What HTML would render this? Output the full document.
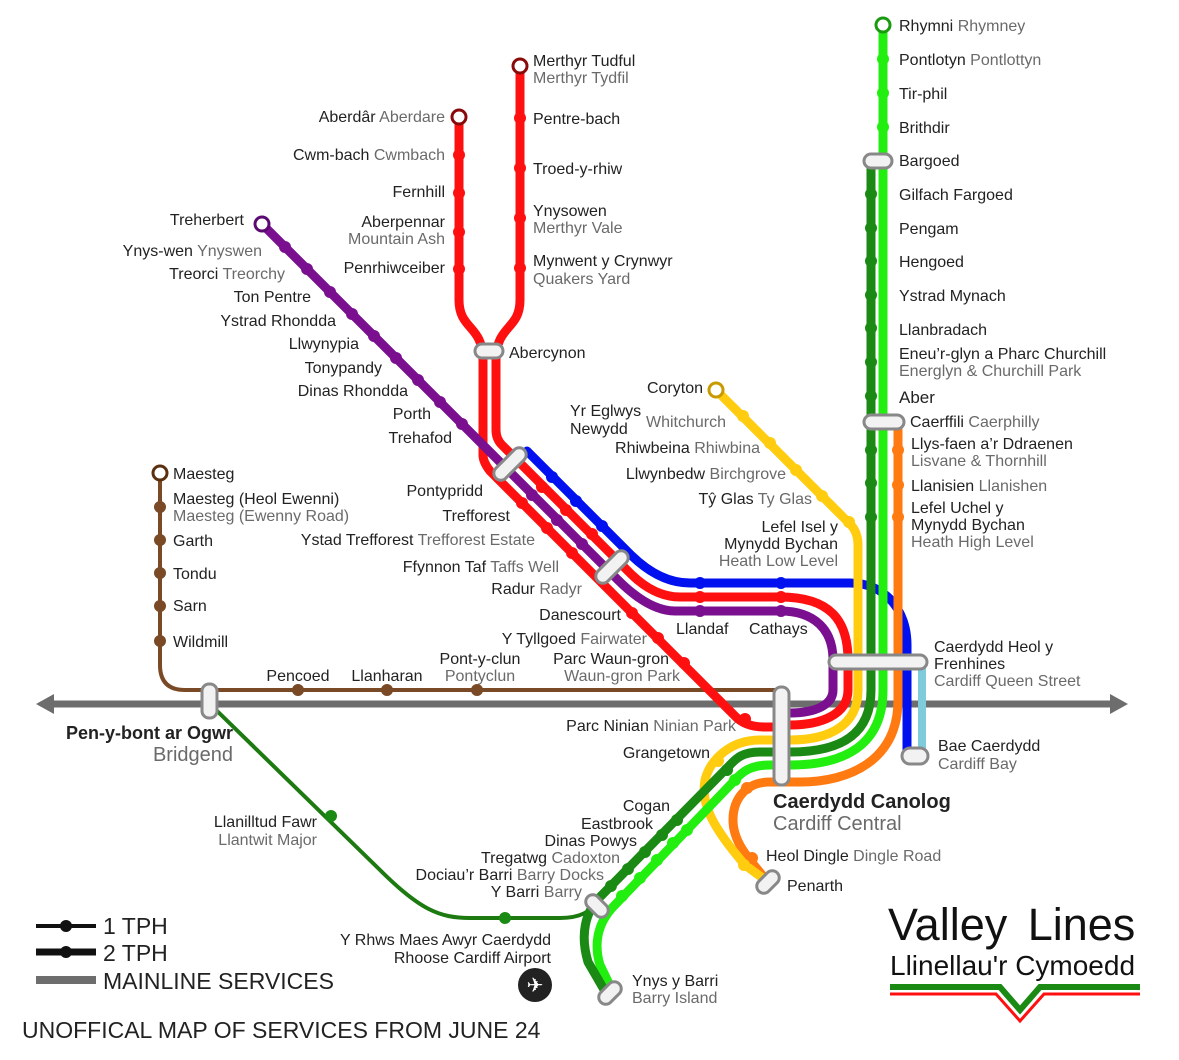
<!DOCTYPE html>
<html><head><meta charset="utf-8"><style>
body{margin:0;background:#fff}
svg{display:block}
text{font-family:"Liberation Sans",sans-serif;font-size:16px;fill:#222}
.e{fill:#6a6a6a}
.r{text-anchor:end}
.c{text-anchor:middle}
</style></head><body>
<svg width="1179" height="1060" viewBox="0 0 1179 1060" xmlns="http://www.w3.org/2000/svg">
<g fill="none" stroke-linecap="round" stroke-linejoin="round">
<path d="M50,704 H1112" stroke="#6d6d6d" stroke-width="7"/>
<path d="M160,479 V665 Q160,690 185,690 H780" stroke="#7a4a26" stroke-width="4"/>
<path d="M212,706 L380,870 C420,910 440,918 470,918 H560 C580,918 590,912 600,900" stroke="#1c7a10" stroke-width="4"/>
<path d="M922,665 V750" stroke="#7ecbdc" stroke-width="8"/>
<path d="M527,451 L630,554 Q659,583 690,583 H850 C885,583 907,610 907,645 V752" stroke="#0010ee" stroke-width="9"/>
<path d="M898,420 V700 C898,760 850,782 800,782 H770 C745,782 733,800 733,820 C733,842 748,858 768,882" stroke="#ff7a10" stroke-width="9"/>
<path d="M716,390 L850,524 Q858,532 858,545 V690 C858,725 830,740 790,740 H760 C730,740 710,760 705,780 C700,805 715,830 745,865 L768,882" stroke="#ffcc10" stroke-width="9"/>
<path d="M883,25 V690 C883,745 845,765 790,765 H770 C750,765 742,772 735,780 L612,908 C597,925 594,945 600,965 L612,990" stroke="#22ee10" stroke-width="9"/>
<path d="M871,165 V690 C871,735 840,752 790,752 H760 C740,752 735,760 727,768 L600,897 C585,912 580,935 588,962 L606,993" stroke="#1a8a14" stroke-width="9"/>
<path d="M459,117 V300 C459,330 483,325 483,360 V455 Q483,462 490,471 L735,716 Q745,727 765,727 H781" stroke="#ff1010" stroke-width="9"/>
<path d="M520,66 V300 C520,330 496,325 496,360 V430 Q496,439 502,445 L630,573 Q654,597 680,597 H780 C830,597 848,620 848,660 V690 C848,715 820,725 790,725" stroke="#ff1010" stroke-width="9"/>
<path d="M262,224 L618,580 Q649,611 675,611 H780 C815,611 833,630 833,660 V690 C833,705 815,713 790,713" stroke="#7a1090" stroke-width="9"/>
</g>
<polygon points="36,704 54,694 54,714" fill="#6d6d6d"/>
<polygon points="1128,704 1110,694 1110,714" fill="#6d6d6d"/>
<g fill="#22ee10"><circle cx="883" cy="59" r="6"/><circle cx="883" cy="93" r="6"/><circle cx="883" cy="127" r="6"/>
<circle cx="735" cy="780" r="6"/><circle cx="687" cy="830" r="6"/><circle cx="673" cy="843" r="6"/><circle cx="657" cy="860" r="6"/><circle cx="640" cy="878" r="6"/><circle cx="622" cy="896" r="6"/></g>
<g fill="#1a8a14"><circle cx="871" cy="194" r="6"/><circle cx="871" cy="228" r="6"/><circle cx="871" cy="261" r="6"/><circle cx="871" cy="295" r="6"/><circle cx="871" cy="328" r="6"/><circle cx="871" cy="362" r="6"/><circle cx="871" cy="396" r="6"/><circle cx="871" cy="450" r="6"/><circle cx="871" cy="483" r="6"/><circle cx="871" cy="517" r="6"/>
<circle cx="727" cy="770" r="6"/><circle cx="677" cy="820" r="6"/><circle cx="662" cy="835" r="6"/><circle cx="645" cy="852" r="6"/><circle cx="628" cy="869" r="6"/><circle cx="611" cy="886" r="6"/><circle cx="331" cy="816" r="6"/><circle cx="505" cy="918" r="6"/></g>
<g fill="#ff7a10"><circle cx="898" cy="450" r="6"/><circle cx="898" cy="485" r="6"/><circle cx="898" cy="517" r="6"/><circle cx="747" cy="788" r="6"/><circle cx="752" cy="858" r="6"/></g>
<g fill="#ffcc10"><circle cx="743" cy="416" r="6"/><circle cx="770" cy="443" r="6"/><circle cx="796" cy="470" r="6"/><circle cx="822" cy="496" r="6"/><circle cx="849" cy="522" r="6"/><circle cx="718" cy="761" r="6"/><circle cx="744" cy="865" r="6"/></g>
<g fill="#0010ee"><circle cx="552" cy="477" r="6"/><circle cx="576" cy="501" r="6"/><circle cx="602" cy="526" r="6"/><circle cx="700" cy="583" r="6"/><circle cx="781" cy="583" r="6"/></g>
<g fill="#ff1010"><circle cx="459" cy="155" r="6"/><circle cx="459" cy="193" r="6"/><circle cx="459" cy="232" r="6"/><circle cx="459" cy="269" r="6"/>
<circle cx="520" cy="118" r="6"/><circle cx="520" cy="168" r="6"/><circle cx="520" cy="218" r="6"/><circle cx="520" cy="268" r="6"/>
<circle cx="542" cy="487" r="6"/><circle cx="566" cy="510" r="6"/><circle cx="592" cy="534" r="6"/><circle cx="700" cy="597" r="6"/><circle cx="781" cy="597" r="6"/>
<circle cx="522" cy="503" r="6"/><circle cx="547" cy="528" r="6"/><circle cx="572" cy="553" r="6"/><circle cx="632" cy="613" r="6"/><circle cx="658" cy="638" r="6"/><circle cx="684" cy="663" r="6"/><circle cx="745" cy="719" r="6"/></g>
<g fill="#7a1090"><circle cx="285" cy="247" r="6"/><circle cx="307" cy="269" r="6"/><circle cx="330" cy="292" r="6"/><circle cx="352" cy="314" r="6"/><circle cx="374" cy="336" r="6"/><circle cx="396" cy="358" r="6"/><circle cx="418" cy="380" r="6"/><circle cx="440" cy="402" r="6"/><circle cx="462" cy="424" r="6"/>
<circle cx="532" cy="495" r="6"/><circle cx="557" cy="520" r="6"/><circle cx="582" cy="544" r="6"/><circle cx="700" cy="611" r="6"/><circle cx="781" cy="611" r="6"/></g>
<g fill="#7a4a26"><circle cx="160" cy="507" r="6"/><circle cx="160" cy="540" r="6"/><circle cx="160" cy="573" r="6"/><circle cx="160" cy="606" r="6"/><circle cx="160" cy="641" r="6"/><circle cx="298" cy="690" r="6"/><circle cx="387" cy="690" r="6"/><circle cx="477" cy="690" r="6"/></g>
<g fill="#fff" stroke-width="3"><circle cx="883" cy="25" r="7" stroke="#1a9a10"/><circle cx="520" cy="66" r="7" stroke="#8a0a0a"/><circle cx="459" cy="117" r="7" stroke="#8a0a0a"/><circle cx="262" cy="224" r="7" stroke="#5a0a70"/><circle cx="716" cy="390" r="7" stroke="#c89a00"/><circle cx="160" cy="473" r="7" stroke="#5a3010"/></g>
<g fill="#f2f2f2" stroke="#888" stroke-width="3">
<rect x="864" y="154" width="28" height="14" rx="7"/>
<rect x="864" y="415" width="40" height="14" rx="7"/>
<rect x="475" y="344" width="28" height="14" rx="7"/>
<rect x="829" y="655" width="98" height="14" rx="7"/>
<rect x="902" y="748" width="26" height="16" rx="8"/>
<rect x="774" y="687" width="15" height="98" rx="7"/>
<rect x="202" y="684" width="15" height="34" rx="7"/>
<rect x="490" y="457" width="40" height="14" rx="7" transform="rotate(-45 510 464)"/>
<rect x="592" y="560" width="40" height="14" rx="7" transform="rotate(-45 612 567)"/>
<rect x="755" y="875" width="26" height="14" rx="7" transform="rotate(-45 768 882)"/>
<rect x="584" y="899" width="26" height="14" rx="7" transform="rotate(45 597 906)"/>
<rect x="597" y="986" width="26" height="14" rx="7" transform="rotate(-45 610 993)"/>
</g>
<text x="899" y="31">Rhymni <tspan class="e">Rhymney</tspan></text>
<text x="899" y="65">Pontlotyn <tspan class="e">Pontlottyn</tspan></text>
<text x="899" y="99">Tir-phil</text>
<text x="899" y="133">Brithdir</text>
<text x="899" y="166">Bargoed</text>
<text x="899" y="200">Gilfach Fargoed</text>
<text x="899" y="234">Pengam</text>
<text x="899" y="267">Hengoed</text>
<text x="899" y="301">Ystrad Mynach</text>
<text x="899" y="335">Llanbradach</text>
<text x="899" y="359">Eneu’r-glyn a Pharc Churchill</text>
<text x="899" y="376" class="e">Energlyn &amp; Churchill Park</text>
<text x="899" y="403" style="font-size:17px">Aber</text>
<text x="910" y="427">Caerffili <tspan class="e">Caerphilly</tspan></text>
<text x="911" y="449">Llys-faen a’r Ddraenen</text>
<text x="911" y="466" class="e">Lisvane &amp; Thornhill</text>
<text x="911" y="491">Llanisien <tspan class="e">Llanishen</tspan></text>
<text x="911" y="513">Lefel Uchel y</text>
<text x="911" y="530">Mynydd Bychan</text>
<text x="911" y="547" class="e">Heath High Level</text>
<text x="934" y="652">Caerdydd Heol y</text>
<text x="934" y="669">Frenhines</text>
<text x="934" y="686" class="e">Cardiff Queen Street</text>
<text x="938" y="751">Bae Caerdydd</text>
<text x="938" y="769" class="e">Cardiff Bay</text>
<text x="773" y="808" style="font-size:20px;font-weight:bold">Caerdydd Canolog</text>
<text x="773" y="830" class="e" style="font-size:20px">Cardiff Central</text>
<text x="766" y="861">Heol Dingle <tspan class="e">Dingle Road</tspan></text>
<text x="787" y="891">Penarth</text>
<text x="632" y="986">Ynys y Barri</text>
<text x="632" y="1003" class="e">Barry Island</text>
<text x="445" y="122" class="r">Aberdâr <tspan class="e">Aberdare</tspan></text>
<text x="445" y="160" class="r">Cwm-bach <tspan class="e">Cwmbach</tspan></text>
<text x="445" y="197" class="r">Fernhill</text>
<text x="445" y="227" class="r">Aberpennar</text>
<text x="445" y="244" class="r e">Mountain Ash</text>
<text x="445" y="273" class="r">Penrhiwceiber</text>
<text x="533" y="66">Merthyr Tudful</text>
<text x="533" y="83" class="e">Merthyr Tydfil</text>
<text x="533" y="124">Pentre-bach</text>
<text x="533" y="174">Troed-y-rhiw</text>
<text x="533" y="216">Ynysowen</text>
<text x="533" y="233" class="e">Merthyr Vale</text>
<text x="533" y="266">Mynwent y Crynwyr</text>
<text x="533" y="284" class="e">Quakers Yard</text>
<text x="509" y="358">Abercynon</text>
<text x="244" y="225" class="r">Treherbert</text>
<text x="262" y="256" class="r">Ynys-wen <tspan class="e">Ynyswen</tspan></text>
<text x="285" y="279" class="r">Treorci <tspan class="e">Treorchy</tspan></text>
<text x="311" y="302" class="r">Ton Pentre</text>
<text x="336" y="326" class="r">Ystrad Rhondda</text>
<text x="359" y="349" class="r">Llwynypia</text>
<text x="382" y="373" class="r">Tonypandy</text>
<text x="408" y="396" class="r">Dinas Rhondda</text>
<text x="431" y="419" class="r">Porth</text>
<text x="452" y="443" class="r">Trehafod</text>
<text x="483" y="496" class="r">Pontypridd</text>
<text x="510" y="521" class="r">Trefforest</text>
<text x="535" y="545" class="r">Ystad Trefforest <tspan class="e">Trefforest Estate</tspan></text>
<text x="559" y="572" class="r">Ffynnon Taf <tspan class="e">Taffs Well</tspan></text>
<text x="582" y="594" class="r">Radur <tspan class="e">Radyr</tspan></text>
<text x="621" y="620" class="r">Danescourt</text>
<text x="647" y="644" class="r">Y Tyllgoed <tspan class="e">Fairwater</tspan></text>
<text x="669" y="664" class="r">Parc Waun-gron</text>
<text x="680" y="681" class="r e">Waun-gron Park</text>
<text x="676" y="634">Llandaf</text>
<text x="749" y="634">Cathays</text>
<text x="703" y="393" class="r">Coryton</text>
<text x="570" y="416">Yr Eglwys</text>
<text x="570" y="434">Newydd</text>
<text x="646" y="427" class="e">Whitchurch</text>
<text x="760" y="453" class="r">Rhiwbeina <tspan class="e">Rhiwbina</tspan></text>
<text x="786" y="479" class="r">Llwynbedw <tspan class="e">Birchgrove</tspan></text>
<text x="812" y="504" class="r">Tŷ Glas <tspan class="e">Ty Glas</tspan></text>
<text x="838" y="532" class="r">Lefel Isel y</text>
<text x="838" y="549" class="r">Mynydd Bychan</text>
<text x="838" y="566" class="r e">Heath Low Level</text>
<text x="736" y="731" class="r">Parc Ninian <tspan class="e">Ninian Park</tspan></text>
<text x="710" y="758" class="r">Grangetown</text>
<text x="670" y="811" class="r">Cogan</text>
<text x="653" y="829" class="r">Eastbrook</text>
<text x="637" y="846" class="r">Dinas Powys</text>
<text x="620" y="863" class="r">Tregatwg <tspan class="e">Cadoxton</tspan></text>
<text x="604" y="880" class="r">Dociau’r Barri <tspan class="e">Barry Docks</tspan></text>
<text x="582" y="897" class="r">Y Barri <tspan class="e">Barry</tspan></text>
<text x="551" y="945" class="r">Y Rhws Maes Awyr Caerdydd</text>
<text x="551" y="963" class="r">Rhoose Cardiff Airport</text>
<text x="317" y="827" class="r">Llanilltud Fawr</text>
<text x="317" y="845" class="r e">Llantwit Major</text>
<text x="233" y="739" class="r" style="font-size:18px;font-weight:bold">Pen-y-bont ar Ogwr</text>
<text x="233" y="761" class="r e" style="font-size:20px">Bridgend</text>
<text x="173" y="479">Maesteg</text>
<text x="173" y="504">Maesteg (Heol Ewenni)</text>
<text x="173" y="521" class="e">Maesteg (Ewenny Road)</text>
<text x="173" y="546">Garth</text>
<text x="173" y="579">Tondu</text>
<text x="173" y="611">Sarn</text>
<text x="173" y="647">Wildmill</text>
<text x="298" y="681" class="c">Pencoed</text>
<text x="387" y="681" class="c">Llanharan</text>
<text x="480" y="664" class="c">Pont-y-clun</text>
<text x="480" y="681" class="c e">Pontyclun</text>
<circle cx="535" cy="985" r="17" fill="#222"/>
<text x="535" y="992" class="c" style="fill:#fff;font-family:'DejaVu Sans',sans-serif;font-size:20px">✈</text>
<path d="M36,926 H96" stroke="#111" stroke-width="4"/><circle cx="66" cy="926" r="6" fill="#111"/>
<path d="M36,952 H96" stroke="#111" stroke-width="7"/><circle cx="66" cy="952" r="6" fill="#111"/>
<path d="M36,980 H96" stroke="#6d6d6d" stroke-width="8"/>
<text x="103" y="934" style="font-size:23px">1 TPH</text>
<text x="103" y="961" style="font-size:23px">2 TPH</text>
<text x="103" y="989" style="font-size:23px">MAINLINE SERVICES</text>
<text x="22" y="1038" style="font-size:23px">UNOFFICAL MAP OF SERVICES FROM JUNE 24</text>
<text x="888" y="940" style="font-size:45px;fill:#111;word-spacing:8px">Valley Lines</text>
<text x="890" y="975" style="font-size:28px;fill:#111">Llinellau'r Cymoedd</text>
<path d="M890,987 H1000 L1020,1010 L1040,987 H1140" fill="none" stroke="#1a8a14" stroke-width="6"/>
<path d="M890,994 H996 L1020,1021 L1044,994 H1140" fill="none" stroke="#ff1010" stroke-width="3"/>
</svg>
</body></html>
